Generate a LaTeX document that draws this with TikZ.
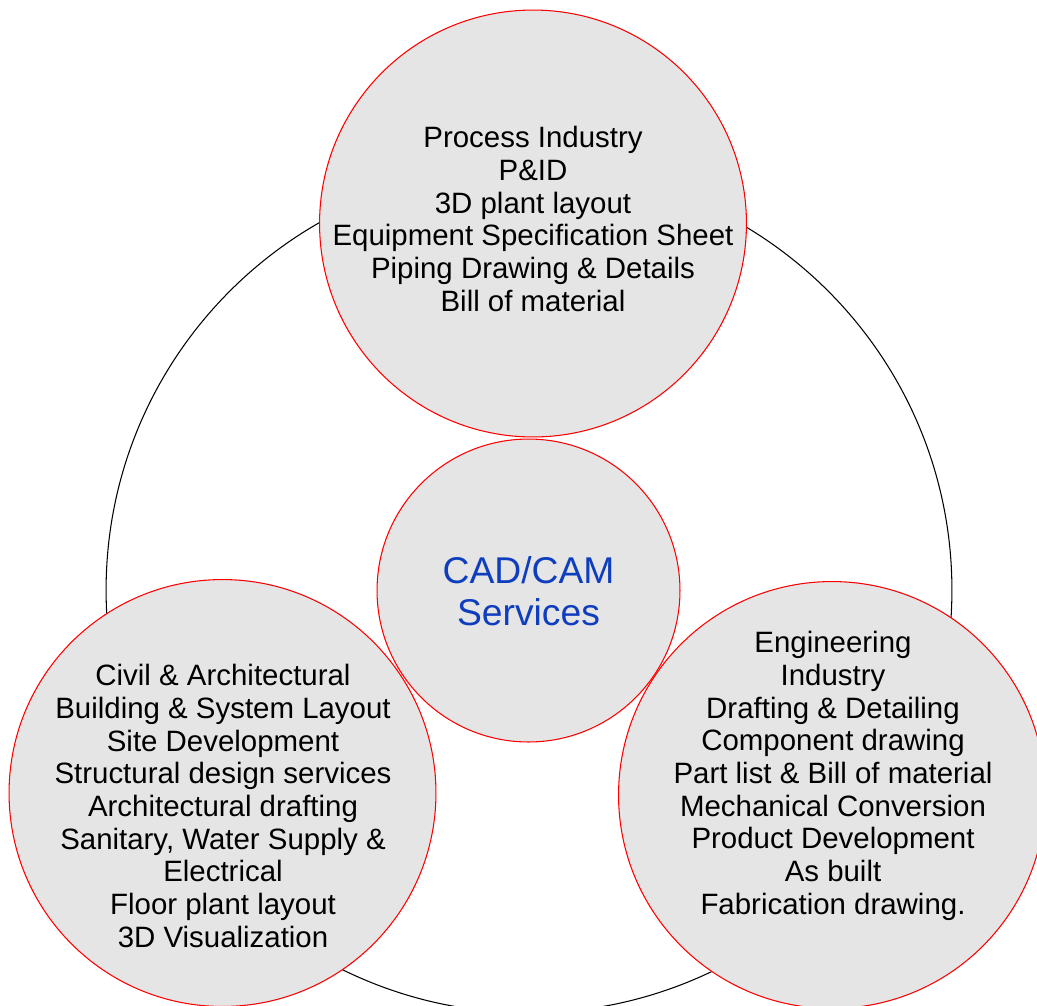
\documentclass[tikz,border=0pt]{standalone}
\usepackage{fontspec}
\setmainfont{Liberation Sans}
\usetikzlibrary{positioning}
\definecolor{cadblue}{RGB}{14,62,190}
\definecolor{bubblefill}{RGB}{229,229,229}
\tikzset{
    ringnode/.style = {circle, draw=black, line width=0.6pt, minimum size=16.92cm, inner sep=0pt},
    bubblenode/.style = {circle, draw=red, line width=0.6pt, fill=bubblefill, minimum size=8.54cm, inner sep=0pt},
    hubnode/.style = {circle, draw=red, line width=0.6pt, fill=bubblefill, minimum size=6.06cm, inner sep=0pt},
    listtext/.style = {align=center, text=black, font=\fontsize{16.75}{18.6}\selectfont},
    hubtext/.style = {align=center, text=cadblue, font=\fontsize{21.2}{23.6}\selectfont}
}

\begin{document}
\begin{tikzpicture}[x=0.02cm, y=-0.02cm]
\useasboundingbox (0,0) rectangle (1037,1005);
% back ring
\node[ringnode] at (529, 590) (ring) {};
% bubbles
\node[bubblenode] at (533, 223.5) (process) {};
\node[hubnode] at (528.5, 590.5) (hub) {};
\node[bubblenode] at (222.5, 793) (civil) {};
\node[bubblenode] at (832, 795) (engg) {};
%
\node[listtext] at (533, 219) (processtext) {Process Industry\\P\&ID\\3D plant layout\\Equipment Specification Sheet\\Piping Drawing \& Details\\Bill of material};
\node[hubtext] at (528.5, 591) (hubtext) {CAD/CAM\\Services};
\node[listtext] at (223, 806) (civiltext) {Civil \& Architectural\\Building \& System Layout\\Site Development\\Structural design services\\Architectural drafting\\Sanitary, Water Supply \&\\Electrical\\Floor plant layout\\3D Visualization};
\node[listtext] at (833, 776) (enggtext) {Engineering\\Industry\\Drafting \& Detailing\\Component drawing\\Part list \& Bill of material\\Mechanical Conversion\\Product Development\\As built\\Fabrication drawing.};
\end{tikzpicture}
\end{document}
